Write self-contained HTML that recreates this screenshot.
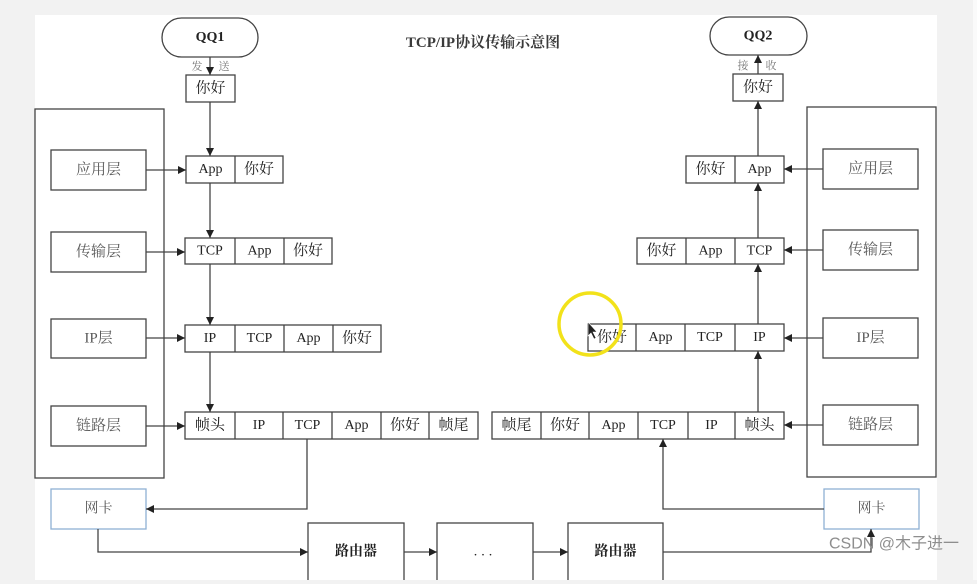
<!DOCTYPE html>
<html><head><meta charset="utf-8"><style>
html,body{margin:0;padding:0;background:#f2f2f2;}
svg{display:block;}
text{font-family:"Liberation Serif","Noto Serif CJK SC",serif;}
.c{font-size:14px;fill:#222;text-anchor:middle;dominant-baseline:central;}
.z{font-size:15px;fill:#222;text-anchor:middle;dominant-baseline:central;}
.l{font-size:15px;fill:#5a5a5a;text-anchor:middle;dominant-baseline:central;}
.s{font-size:11px;fill:#777;text-anchor:middle;dominant-baseline:central;}
</style></head><body>
<svg width="977" height="584" viewBox="0 0 977 584" xmlns="http://www.w3.org/2000/svg">
<defs>
<marker id="a" viewBox="0 0 10 10" refX="10" refY="5" markerWidth="8" markerHeight="8" markerUnits="userSpaceOnUse" orient="auto"><path d="M0,0 L10,5 L0,10 z" fill="#222"/></marker>
</defs>
<rect x="0" y="0" width="977" height="584" fill="#f2f2f2"/>
<rect x="973" y="0" width="4" height="584" fill="#fafafa"/>
<rect x="35" y="15" width="902" height="565" fill="#fff"/>

<g fill="none" stroke="#444" stroke-width="1.3">
<!-- QQ pills -->
<rect x="162" y="18" width="96" height="39" rx="19.5" fill="#fff"/>
<rect x="710" y="17" width="97" height="38" rx="19" fill="#fff"/>
<!-- containers -->
<rect x="35" y="109" width="129" height="369"/>
<rect x="807" y="107" width="129" height="370"/>
<!-- left layer boxes -->
<rect x="51" y="150" width="95" height="40"/>
<rect x="51" y="232" width="95" height="40"/>
<rect x="51" y="319" width="95" height="39"/>
<rect x="51" y="406" width="95" height="40"/>
<!-- right layer boxes -->
<rect x="823" y="149" width="95" height="40"/>
<rect x="823" y="230" width="95" height="40"/>
<rect x="823" y="318" width="95" height="40"/>
<rect x="823" y="405" width="95" height="40"/>
<!-- routers -->
<rect x="308" y="523" width="96" height="62"/>
<rect x="437" y="523" width="96" height="62"/>
<rect x="568" y="523" width="95" height="62"/>
<!-- hello boxes -->
<rect x="186" y="75" width="49" height="27"/>
<rect x="733" y="74" width="50" height="27"/>
<!-- left rows -->
<rect x="186" y="156" width="97" height="27"/><line x1="235" y1="156" x2="235" y2="183"/>
<rect x="185" y="238" width="147" height="26"/><line x1="235" y1="238" x2="235" y2="264"/><line x1="284" y1="238" x2="284" y2="264"/>
<rect x="185" y="325" width="196" height="27"/><line x1="235" y1="325" x2="235" y2="352"/><line x1="284" y1="325" x2="284" y2="352"/><line x1="333" y1="325" x2="333" y2="352"/>
<rect x="185" y="412" width="293" height="27"/><line x1="235" y1="412" x2="235" y2="439"/><line x1="283" y1="412" x2="283" y2="439"/><line x1="332" y1="412" x2="332" y2="439"/><line x1="381" y1="412" x2="381" y2="439"/><line x1="429" y1="412" x2="429" y2="439"/>
<!-- right rows -->
<rect x="686" y="156" width="98" height="27"/><line x1="735" y1="156" x2="735" y2="183"/>
<rect x="637" y="238" width="147" height="26"/><line x1="686" y1="238" x2="686" y2="264"/><line x1="735" y1="238" x2="735" y2="264"/>
<rect x="588" y="324" width="196" height="27"/><line x1="636" y1="324" x2="636" y2="351"/><line x1="685" y1="324" x2="685" y2="351"/><line x1="735" y1="324" x2="735" y2="351"/>
<rect x="492" y="412" width="292" height="27"/><line x1="541" y1="412" x2="541" y2="439"/><line x1="589" y1="412" x2="589" y2="439"/><line x1="638" y1="412" x2="638" y2="439"/><line x1="688" y1="412" x2="688" y2="439"/><line x1="735" y1="412" x2="735" y2="439"/>
</g>
<!-- network cards -->
<rect x="51" y="489" width="95" height="40" fill="#fff" stroke="#8fb0d4" stroke-width="1.3"/>
<rect x="824" y="489" width="95" height="40" fill="#fff" stroke="#8fb0d4" stroke-width="1.3"/>

<g fill="none" stroke="#444" stroke-width="1.3" marker-end="url(#a)">
<!-- left vertical -->
<line x1="210" y1="57" x2="210" y2="75"/>
<line x1="210" y1="102" x2="210" y2="156"/>
<line x1="210" y1="183" x2="210" y2="238"/>
<line x1="210" y1="264" x2="210" y2="325"/>
<line x1="210" y1="352" x2="210" y2="412"/>
<!-- right vertical -->
<line x1="758" y1="74" x2="758" y2="55"/>
<line x1="758" y1="156" x2="758" y2="101"/>
<line x1="758" y1="238" x2="758" y2="183"/>
<line x1="758" y1="324" x2="758" y2="264"/>
<line x1="758" y1="412" x2="758" y2="351"/>
<!-- left horizontals -->
<line x1="146" y1="170" x2="186" y2="170"/>
<line x1="146" y1="252" x2="185" y2="252"/>
<line x1="146" y1="338" x2="185" y2="338"/>
<line x1="146" y1="426" x2="185" y2="426"/>
<!-- right horizontals -->
<line x1="823" y1="169" x2="784" y2="169"/>
<line x1="823" y1="250" x2="784" y2="250"/>
<line x1="823" y1="338" x2="784" y2="338"/>
<line x1="823" y1="425" x2="784" y2="425"/>
<!-- bottom paths -->
<polyline points="307,439 307,509 146,509"/>
<polyline points="98,529 98,552 308,552"/>
<line x1="404" y1="552" x2="437" y2="552"/>
<line x1="533" y1="552" x2="568" y2="552"/>
<polyline points="663,552 871,552 871,529"/>
<polyline points="824,509 663,509 663,439"/>
</g>

<!-- bottom gray band overlay -->
<rect x="0" y="580" width="977" height="4" fill="#f2f2f2"/>

<!-- texts -->
<text x="483" y="43" style="font-size:15px;font-weight:bold;fill:#3a3a3a;text-anchor:middle;dominant-baseline:central;">TCP/IP协议传输示意图</text>
<text x="210" y="37.5" class="c" style="font-weight:bold">QQ1</text>
<text x="758" y="36" class="c" style="font-weight:bold">QQ2</text>
<text x="197" y="67" class="s">发</text><text x="224" y="67" class="s">送</text>
<text x="743" y="66" class="s">接</text><text x="771" y="66" class="s">收</text>
<text x="210.5" y="88.5" class="z">你好</text>
<text x="758" y="87.5" class="z">你好</text>

<text x="98.5" y="170" class="l">应用层</text>
<text x="98.5" y="252" class="l">传输层</text>
<text x="98.5" y="338.5" class="l">IP层</text>
<text x="98.5" y="426" class="l">链路层</text>
<text x="870.5" y="169" class="l">应用层</text>
<text x="870.5" y="250" class="l">传输层</text>
<text x="870.5" y="338" class="l">IP层</text>
<text x="870.5" y="425" class="l">链路层</text>
<text x="98.5" y="509" class="l" style="font-size:14px">网卡</text>
<text x="871.5" y="509" class="l" style="font-size:14px">网卡</text>
<text x="356" y="552" class="z" style="font-size:14px;font-weight:bold">路由器</text>
<text x="485" y="552" class="c" style="letter-spacing:4px">...</text>
<text x="615.5" y="552" class="z" style="font-size:14px;font-weight:bold">路由器</text>

<!-- left rows text -->
<text x="210.5" y="169.5" class="c">App</text><text x="259" y="169.5" class="z">你好</text>
<text x="210" y="251" class="c">TCP</text><text x="259.5" y="251" class="c">App</text><text x="308" y="251" class="z">你好</text>
<text x="210" y="338.5" class="c">IP</text><text x="259.5" y="338.5" class="c">TCP</text><text x="308.5" y="338.5" class="c">App</text><text x="357" y="338.5" class="z">你好</text>
<text x="210" y="425.5" class="z">帧头</text><text x="259" y="425.5" class="c">IP</text><text x="307.5" y="425.5" class="c">TCP</text><text x="356.5" y="425.5" class="c">App</text><text x="405" y="425.5" class="z">你好</text><text x="453.5" y="425.5" class="z">帧尾</text>
<!-- right rows text -->
<text x="710.5" y="169.5" class="z">你好</text><text x="759.5" y="169.5" class="c">App</text>
<text x="661.5" y="251" class="z">你好</text><text x="710.5" y="251" class="c">App</text><text x="759.5" y="251" class="c">TCP</text>
<text x="612" y="337.5" class="z">你好</text><text x="660.5" y="337.5" class="c">App</text><text x="710" y="337.5" class="c">TCP</text><text x="759.5" y="337.5" class="c">IP</text>
<text x="516.5" y="425.5" class="z">帧尾</text><text x="565" y="425.5" class="z">你好</text><text x="613.5" y="425.5" class="c">App</text><text x="663" y="425.5" class="c">TCP</text><text x="711.5" y="425.5" class="c">IP</text><text x="759.5" y="425.5" class="z">帧头</text>

<!-- yellow cursor highlight -->
<circle cx="590" cy="324" r="31" fill="none" stroke="#f2e21a" stroke-width="3.5"/>
<path d="M588,322 L588,336 L591,333 L594,339 L596,338 L593,332 L597,332 Z" fill="#222" stroke="#fff" stroke-width="0.6"/>

<!-- watermark -->
<text x="894" y="544" style="font-family:'Liberation Sans','Noto Sans CJK SC',sans-serif;font-size:16px;fill:#8e8e8e;text-anchor:middle;dominant-baseline:central;">CSDN @木子进一</text>
</svg>
</body></html>
